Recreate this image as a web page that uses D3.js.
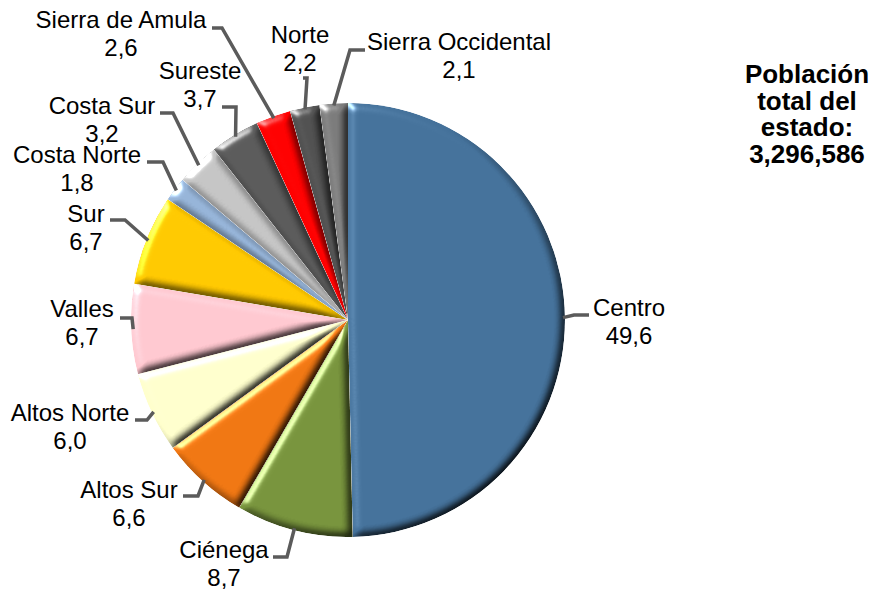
<!DOCTYPE html>
<html>
<head>
<meta charset="utf-8">
<script src="https://cdn.jsdelivr.net/npm/d3@7"></script>
<style>
  body { margin: 0; background: #fff; }
  text { font-family: "Liberation Sans", Arial, sans-serif; }
</style>
</head>
<body>
<div id="chart"></div>
<script>
var width = 877, height = 590;

// regiones y porcentaje de poblacion
var regions = ["Centro", "Ciénega", "Altos Sur", "Altos Norte", "Valles", "Sur",
               "Costa Norte", "Costa Sur", "Sureste", "Sierra de Amula", "Norte", "Sierra Occidental"];
var values = [49.6, 8.7, 6.6, 6.0, 6.7, 6.7, 1.8, 3.2, 3.7, 2.6, 2.2, 2.1];
var colors = ["#44719a", "#77933c", "#ef7612", "#ffffcc", "#ffc7cf", "#ffc800",
              "#95b3d7", "#c4c4c4", "#5a5a5a", "#ff0000", "#505050", "#7a7a7a"];
var totalLines = ["Población", "total del", "estado:", "3,296,586"];

// label placement: text centre x, first baseline, leader start x, elbow x, elbow y
var labelPos = [
  [629, 316, 589, 574, 315],
  [224, 558, 273, 287, 557],
  [129, 498, 183, 198, 496],
  [70, 421, 135, 147, 420],
  [82, 317, 120, 132, 318],
  [86, 222, 110, 125, 220],
  [77, 163, 147, 163, 162],
  [102, 114, 160, 173, 113],
  [200, 79, 222, 236, 107],
  [121, 28, 212, 222, 28],
  [300, 43, 303, 307, 78],
  [459, 50, 365, 350, 50]
];

var cx = 348, cy = 320, radius = 217;

var svg = d3.select("#chart").append("svg")
    .attr("width", width)
    .attr("height", height);

// bevel look for the slices
var defs = svg.append("defs");
var filter = defs.append("filter")
    .attr("id", "bevel")
    .attr("x", "-5%").attr("y", "-5%")
    .attr("width", "110%").attr("height", "110%")
    .attr("color-interpolation-filters", "sRGB");
filter.append("feGaussianBlur")
    .attr("in", "SourceAlpha").attr("stdDeviation", 4).attr("result", "blur");
filter.append("feDiffuseLighting")
    .attr("in", "blur").attr("surfaceScale", 4).attr("diffuseConstant", 1.42)
    .attr("lighting-color", "#fff").attr("result", "diff")
  .append("feDistantLight").attr("azimuth", 225).attr("elevation", 45);
filter.append("feSpecularLighting")
    .attr("in", "blur").attr("surfaceScale", 4).attr("specularConstant", 0.6)
    .attr("specularExponent", 30).attr("lighting-color", "#fff").attr("result", "spec")
  .append("feDistantLight").attr("azimuth", 225).attr("elevation", 30);
filter.append("feComposite")
    .attr("in", "SourceGraphic").attr("in2", "diff").attr("operator", "arithmetic")
    .attr("k1", 1).attr("k2", 0).attr("k3", 0).attr("k4", 0).attr("result", "lit");
filter.append("feComposite")
    .attr("in", "spec").attr("in2", "SourceAlpha").attr("operator", "in").attr("result", "specIn");
filter.append("feComposite")
    .attr("in", "lit").attr("in2", "specIn").attr("operator", "arithmetic")
    .attr("k1", 0).attr("k2", 1).attr("k3", 1).attr("k4", 0).attr("result", "shiny");
filter.append("feComposite")
    .attr("in", "shiny").attr("in2", "SourceAlpha").attr("operator", "in");

var pie = d3.pie().sort(null).value(function(d) { return d; });
var arcs = pie(values);

var arc = d3.arc().innerRadius(0).outerRadius(radius);
var edgeArc = d3.arc().innerRadius(radius - 2).outerRadius(radius - 2);

var g = svg.append("g").attr("transform", "translate(" + cx + "," + cy + ")");

g.selectAll("path.slice")
    .data(arcs)
  .enter().append("path")
    .attr("class", "slice")
    .attr("d", arc)
    .style("fill", function(d, i) { return colors[i]; })
    .attr("filter", "url(#bevel)");

// leader lines
svg.selectAll("polyline.leader")
    .data(arcs)
  .enter().append("polyline")
    .attr("class", "leader")
    .attr("points", function(d, i) {
      var p = labelPos[i];
      var c = edgeArc.centroid(d);
      return [[p[2], p[4]], [p[3], p[4]], [c[0] + cx, c[1] + cy]].join(" ");
    })
    .style("fill", "none")
    .style("stroke", "#5b5b5b")
    .style("stroke-width", 3.5)
    .style("stroke-linejoin", "miter");

var fmt = d3.format(".1f");

var labels = svg.selectAll("text.lbl")
    .data(arcs)
  .enter().append("text")
    .attr("class", "lbl")
    .attr("text-anchor", "middle")
    .style("font-size", "24px")
    .style("fill", "#000");

labels.append("tspan")
    .attr("x", function(d, i) { return labelPos[i][0]; })
    .attr("y", function(d, i) { return labelPos[i][1]; })
    .text(function(d, i) { return regions[i]; });
labels.append("tspan")
    .attr("x", function(d, i) { return labelPos[i][0]; })
    .attr("y", function(d, i) { return labelPos[i][1] + 27.5; })
    .text(function(d) { return fmt(d.data).replace(".", ","); });

// total del estado
svg.append("g").selectAll("text")
    .data(totalLines)
  .enter().append("text")
    .attr("x", 807)
    .attr("y", function(d, i) { return 83 + i * 26.7; })
    .attr("text-anchor", "middle")
    .style("font-size", "26px")
    .style("font-weight", "bold")
    .style("fill", "#000")
    .text(function(d) { return d; });
</script>
</body>
</html>
